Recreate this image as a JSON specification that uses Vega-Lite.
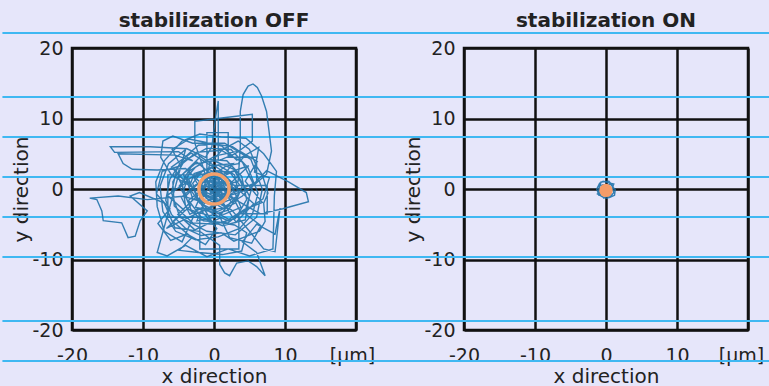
{
  "$schema": "https://vega.github.io/schema/vega-lite/v6.json",
  "background": "#e6e6fa",
  "padding": {"top": 9, "left": 0, "right": 0, "bottom": 0},
  "bounds": "flush",
  "spacing": 108,
  "config": {
    "font": "DejaVu Sans",
    "view": {"stroke": "#111111", "strokeWidth": 2.5, "fill": null},
    "axis": {
      "grid": true, "gridColor": "#111111", "gridWidth": 2.5, "gridOpacity": 1,
      "ticks": false, "domain": false,
      "labelFont": "DejaVu Sans", "labelFontSize": 19, "labelColor": "#222222",
      "labelFlush": false, "labelOverlap": false,
      "titleFont": "DejaVu Sans", "titleFontSize": 20, "titleFontWeight": "normal", "titleColor": "#222222"
    },
    "axisX": {"labelPadding": 16, "titlePadding": 1},
    "axisY": {"labelPadding": 9, "titlePadding": 0},
    "title": {"font": "DejaVu Sans", "fontSize": 20, "fontWeight": "bold", "color": "#222222", "baseline": "alphabetic", "offset": 1}
  },
  "datasets": {
    "bands": [{"y": 22.13}, {"y": 13.05}, {"y": 7.38}, {"y": 1.7}, {"y": -3.97}, {"y": -9.65}, {"y": -18.72}, {"y": -24.4}],
    "off": [
      {"x":0,"y":0},{"x":1.2,"y":0.8},{"x":-0.5,"y":2.1},{"x":-2.0,"y":1.0},{"x":-1.2,"y":-0.8},{"x":0.8,"y":-1.5},{"x":2.3,"y":-0.2},{"x":1.5,"y":1.8},{"x":-0.3,"y":3.0},{"x":-2.8,"y":2.2},
      {"x":-3.5,"y":0.2},{"x":-2.0,"y":-2.0},{"x":0.5,"y":-3.2},{"x":3.0,"y":-2.0},{"x":4.0,"y":0.5},{"x":2.8,"y":2.8},{"x":0.0,"y":4.0},{"x":-3.0,"y":3.5},{"x":-4.5,"y":1.0},{"x":-4.0,"y":-2.5},
      {"x":-1.5,"y":-4.5},{"x":2.0,"y":-4.8},{"x":4.5,"y":-2.8},{"x":5.5,"y":0.8},{"x":4.0,"y":3.8},{"x":1.0,"y":5.5},{"x":-2.5,"y":5.2},{"x":-5.2,"y":3.0},{"x":-6.0,"y":-0.5},{"x":-4.8,"y":-4.0},
      {"x":-1.0,"y":-6.0},{"x":3.0,"y":-6.5},{"x":6.0,"y":-4.0},{"x":6.8,"y":0.0},{"x":5.2,"y":4.2},{"x":1.5,"y":6.5},{"x":-3.0,"y":6.5},{"x":-5.8,"y":7.5},{"x":-7.2,"y":6.8},{"x":-7.5,"y":4.5},
      {"x":-6.0,"y":2.0},{"x":-3.5,"y":0.5},{"x":-1.0,"y":-1.0},{"x":1.5,"y":-2.5},{"x":4.0,"y":-1.0},{"x":7.4,"y":2.6},{"x":10.5,"y":1.0},{"x":13.0,"y":-0.5},{"x":13.3,"y":-1.8},{"x":9.7,"y":-2.8},
      {"x":6.5,"y":-3.5},{"x":3.0,"y":-1.5},{"x":0.5,"y":0.5},{"x":-1.5,"y":1.5},{"x":0.3,"y":-0.4},{"x":1.8,"y":0.6},{"x":3.4,"y":1.1},{"x":3.7,"y":6.0},{"x":3.7,"y":11.0},{"x":4.1,"y":13.4},
      {"x":4.8,"y":14.6},{"x":5.5,"y":14.9},{"x":6.1,"y":14.4},{"x":6.7,"y":13.2},{"x":7.4,"y":11.0},{"x":8.1,"y":5.4},{"x":7.4,"y":2.1},{"x":5.0,"y":0.0},{"x":2.0,"y":-1.0},{"x":-0.5,"y":-0.5},{"x":-1.5,"y":3.0},{"x":-2.7,"y":6.5},
      {"x":-2.7,"y":9.6},{"x":0.5,"y":10.0},{"x":5.4,"y":10.6},{"x":5.4,"y":6.8},{"x":3.0,"y":5.0},{"x":0.6,"y":4.0},{"x":0.6,"y":12.5},{"x":0.2,"y":10.0},{"x":-0.3,"y":6.0},{"x":-1.2,"y":4.5},
      {"x":-3.8,"y":5.7},{"x":-9.0,"y":6.0},{"x":-14.6,"y":6.0},{"x":-14.0,"y":5.2},{"x":-5.0,"y":5.3},{"x":-3.0,"y":4.0},{"x":-5.5,"y":4.8},{"x":-13.5,"y":5.0},{"x":-12.8,"y":3.6},{"x":-11.5,"y":2.8},
      {"x":-8.0,"y":2.7},{"x":-4.0,"y":2.9},{"x":-2.0,"y":1.0},{"x":-4.0,"y":-1.0},{"x":-9.4,"y":-1.5},{"x":-13.5,"y":-1.0},{"x":-17.5,"y":-1.3},{"x":-16.5,"y":-1.5},{"x":-15.8,"y":-3.1},{"x":-15.6,"y":-4.5},
      {"x":-13.0,"y":-4.8},{"x":-12.1,"y":-6.9},{"x":-11.1,"y":-6.7},{"x":-10.4,"y":-4.5},{"x":-9.4,"y":-3.1},{"x":-11.8,"y":-1.0},{"x":-10.5,"y":-0.5},{"x":-7.0,"y":-2.0},{"x":-5.5,"y":-5.5},{"x":-2.0,"y":-6.0},
      {"x":0.8,"y":-8.0},{"x":0.8,"y":-10.7},{"x":1.5,"y":-11.9},{"x":2.2,"y":-12.3},{"x":3.2,"y":-10.5},{"x":4.8,"y":-10.2},{"x":6.0,"y":-11.0},{"x":7.2,"y":-12.3},{"x":6.0,"y":-9.0},{"x":4.0,"y":-7.5},
      {"x":6.0,"y":-5.0},{"x":8.6,"y":-6.4},{"x":9.3,"y":-2.7},{"x":8.6,"y":-8.9},{"x":7.0,"y":-8.5},{"x":5.0,"y":-6.0},{"x":2.5,"y":-3.0},{"x":0.2,"y":-1.8},{"x":-1.8,"y":-0.2},{"x":-0.8,"y":1.6},
      {"x":1.0,"y":2.4},{"x":2.6,"y":0.9},{"x":1.9,"y":-1.2},{"x":0.0,"y":-2.4},{"x":-2.2,"y":-1.5},{"x":-3.0,"y":0.8},{"x":-1.6,"y":2.6},{"x":0.6,"y":3.4},{"x":2.9,"y":2.0},{"x":3.5,"y":-0.8},
      {"x":2.0,"y":-3.0},{"x":-0.6,"y":-3.8},{"x":-3.2,"y":-3.0},{"x":-4.3,"y":-0.3},{"x":-3.4,"y":2.6},{"x":-0.9,"y":4.2},{"x":1.8,"y":4.0},{"x":3.9,"y":1.8},{"x":4.6,"y":-1.5},{"x":3.0,"y":-4.2},
      {"x":0.0,"y":-5.0},{"x":-3.0,"y":-4.8},{"x":-5.6,"y":-2.4},{"x":-5.8,"y":1.0},{"x":-4.2,"y":4.0},{"x":-1.0,"y":5.8},{"x":2.4,"y":5.6},{"x":4.8,"y":3.0},{"x":6.2,"y":-0.6},{"x":5.4,"y":-3.6},
      {"x":3.6,"y":-5.6},{"x":0.6,"y":-6.8},{"x":-2.6,"y":-7.2},{"x":-5.4,"y":-6.0},{"x":-7.2,"y":-3.2},{"x":-7.6,"y":0.4},{"x":-6.4,"y":3.6},{"x":-4.0,"y":5.6},{"x":-8.0,"y":-9.0},{"x":-6.6,"y":-9.5},
      {"x":-4.0,"y":-8.0},{"x":-1.0,"y":-9.6},{"x":2.0,"y":-8.5},{"x":5.0,"y":-9.5},{"x":8.3,"y":-8.5},{"x":8.4,"y":-5.0},{"x":8.5,"y":-1.0},{"x":8.8,"y":2.5},{"x":7.0,"y":5.0},{"x":4.5,"y":7.2},
      {"x":1.0,"y":7.4},{"x":-2.0,"y":7.8},{"x":-4.5,"y":6.8},{"x":-7.0,"y":4.0},{"x":-8.2,"y":1.0},{"x":-8.0,"y":-2.5},{"x":-7.0,"y":-6.0},{"x":-4.5,"y":-7.5},{"x":-2.4,"y":-2.8},{"x":1.4,"y":-3.6},
      {"x":3.8,"y":-2.6},{"x":2.2,"y":1.2},{"x":-1.0,"y":0.4},{"x":-3.6,"y":-1.6},{"x":-1.8,"y":-4.0},{"x":1.2,"y":-5.2},{"x":4.4,"y":-4.4},{"x":5.0,"y":-1.0},{"x":3.0,"y":2.6},{"x":0.4,"y":1.4},
      {"x":-2.4,"y":3.8},{"x":-5.0,"y":1.6},{"x":-3.8,"y":-1.2},{"x":-0.4,"y":-2.2},{"x":2.6,"y":-0.6},{"x":6.0,"y":1.0},{"x":6.0,"y":4.5},{"x":2.0,"y":4.5},{"x":2.0,"y":8.0},{"x":-1.0,"y":8.0},
      {"x":-1.0,"y":2.0},{"x":-6.5,"y":2.0},{"x":-6.5,"y":-4.0},{"x":-2.0,"y":-4.0},{"x":-2.0,"y":-8.5},{"x":3.5,"y":-8.5},{"x":3.5,"y":-3.5},{"x":7.5,"y":-3.5},{"x":7.5,"y":0.5},{"x":3.0,"y":0.5},
      {"x":1.0,"y":1.0},{"x":-0.6,"y":-0.8},{"x":0.8,"y":0.2},{"x":-0.3,"y":0.6},{"x":0.2,"y":-0.3},
      {"x":3.1,"y":-4.7},{"x":5.6,"y":-2.1},{"x":2.4,"y":0.9},{"x":4.9,"y":3.3},{"x":1.7,"y":2.2},{"x":-1.9,"y":4.6},{"x":-4.4,"y":2.1},{"x":-2.3,"y":-0.9},{"x":-5.1,"y":-3.6},{"x":-2.7,"y":-5.8},
      {"x":0.9,"y":-4.1},{"x":2.2,"y":-6.9},{"x":5.3,"y":-7.7},{"x":6.6,"y":-5.2},{"x":4.1,"y":-3.3},{"x":6.9,"y":-1.4},{"x":7.8,"y":1.6},{"x":5.7,"y":2.4},{"x":6.3,"y":5.9},{"x":3.2,"y":4.1},
      {"x":1.1,"y":6.1},{"x":-1.6,"y":6.7},{"x":-3.5,"y":7.1},{"x":-5.9,"y":5.6},{"x":-4.7,"y":3.3},{"x":-7.3,"y":2.5},{"x":-8.1,"y":-0.7},{"x":-6.2,"y":-2.8},{"x":-7.9,"y":-4.9},{"x":-6.1,"y":-7.3},
      {"x":-3.8,"y":-6.4},{"x":-1.2,"y":-7.9},{"x":0.4,"y":-5.6},{"x":-1.7,"y":-3.2},{"x":0.8,"y":-2.1},{"x":3.3,"y":-1.1},{"x":1.4,"y":1.6},{"x":-0.9,"y":2.9},{"x":-3.6,"y":1.4},{"x":-2.1,"y":-1.7},
      {"x":-0.3,"y":-4.6},{"x":2.9,"y":-5.1},{"x":4.6,"y":-6.2},{"x":3.9,"y":-8.8},{"x":1.2,"y":-9.3},{"x":-2.2,"y":-9.0},{"x":-4.9,"y":-8.7},{"x":-3.1,"y":-6.9},{"x":-5.8,"y":-4.6},{"x":-3.3,"y":-2.4},
      {"x":-4.9,"y":0.4},{"x":-2.6,"y":3.1},{"x":0.2,"y":4.7},{"x":3.6,"y":5.4},{"x":6.1,"y":3.9},{"x":4.4,"y":1.1},{"x":6.8,"y":-1.9},{"x":4.3,"y":-2.9},{"x":2.1,"y":-4.3},{"x":-0.8,"y":-2.7},
      {"x":-3.7,"y":-4.1},{"x":-6.7,"y":-5.6},{"x":-4.1,"y":-3.1},{"x":-6.6,"y":-0.9},{"x":-3.9,"y":0.9},{"x":-6.0,"y":3.1},{"x":-3.2,"y":5.1},{"x":-0.4,"y":3.3},{"x":2.7,"y":3.6},{"x":0.6,"y":1.1},
      {"x":3.8,"y":-0.3},{"x":1.5,"y":-2.9},{"x":-1.1,"y":-1.3},{"x":-2.9,"y":1.7},{"x":-0.2,"y":2.5},{"x":2.4,"y":-1.8},{"x":0.7,"y":-3.9},{"x":-2.4,"y":-4.5},{"x":-1.3,"y":-1.9},{"x":1.9,"y":-0.4},
      {"x":-0.7,"y":1.9},{"x":-2.2,"y":0.1},{"x":0.3,"y":-1.2},
      {"x":1.2,"y":-0.6},{"x":-0.8,"y":0.8},{"x":0.6,"y":1.8},{"x":-1.6,"y":-1.0},{"x":0.2,"y":-1.4},{"x":1.8,"y":-2.6},{"x":-0.4,"y":-3.0},{"x":-2.6,"y":-2.6},{"x":-1.4,"y":0.2},{"x":0.4,"y":2.6},
      {"x":2.2,"y":2.4},{"x":3.6,"y":0.6},{"x":1.4,"y":-1.2},{"x":-0.2,"y":0.2},{"x":-2.0,"y":2.4},{"x":-3.8,"y":1.2},{"x":-3.0,"y":-1.4},{"x":-1.0,"y":-1.8},{"x":0.8,"y":-0.4},{"x":2.8,"y":-1.4},
      {"x":3.8,"y":-3.4},{"x":2.2,"y":-4.6},{"x":0.0,"y":-3.6},{"x":-1.6,"y":-2.6},{"x":-3.4,"y":-3.6},{"x":-4.6,"y":-1.2},{"x":-2.6,"y":0.6},{"x":-0.6,"y":1.2},{"x":1.4,"y":0.4},{"x":2.2,"y":-0.8},
      {"x":0.8,"y":-1.8},{"x":-0.8,"y":-1.2},{"x":-1.8,"y":0.8},{"x":-1.2,"y":2.0},{"x":0.2,"y":2.2},{"x":1.6,"y":3.2},{"x":3.4,"y":3.6},{"x":4.4,"y":4.8},{"x":2.6,"y":6.0},{"x":0.0,"y":6.4},
      {"x":-2.2,"y":6.2},{"x":-3.8,"y":4.8},{"x":-4.8,"y":3.6},{"x":-6.2,"y":1.4},{"x":-6.8,"y":-1.6},{"x":-6.0,"y":-3.6},{"x":-4.0,"y":-5.6},{"x":-1.8,"y":-6.6},{"x":1.0,"y":-6.2},{"x":2.8,"y":-7.4},
      {"x":4.8,"y":-6.6},{"x":6.4,"y":-6.0},{"x":7.2,"y":-4.6},{"x":7.0,"y":-2.0},{"x":7.6,"y":-0.6},{"x":6.8,"y":2.0},{"x":6.0,"y":3.2},{"x":5.0,"y":5.6},{"x":3.4,"y":6.8},{"x":1.2,"y":5.6},
      {"x":-0.6,"y":3.6},{"x":-1.0,"y":1.8},{"x":0.4,"y":0.6},{"x":1.2,"y":-0.2},{"x":0.2,"y":-1.0},{"x":-0.6,"y":-0.2},{"x":0.0,"y":0.8},{"x":0.8,"y":1.0},{"x":1.0,"y":0.2},{"x":-0.4,"y":-0.6},
      {"x":0.6,"y":-0.8},{"x":1.4,"y":-1.8},{"x":0.4,"y":-2.0},{"x":-1.0,"y":-2.8},{"x":-2.0,"y":-1.6},{"x":-1.4,"y":-0.4},{"x":-2.0,"y":0.4},{"x":-1.6,"y":1.6},{"x":-0.4,"y":1.8},{"x":0.8,"y":1.6},
      {"x":1.8,"y":0.8},{"x":2.0,"y":-0.4},{"x":1.2,"y":-1.2},{"x":0.0,"y":-0.6},{"x":-1.2,"y":0.6},{"x":-0.2,"y":1.2},{"x":1.0,"y":1.4},{"x":1.6,"y":0.0},{"x":0.2,"y":-0.4}
    ],
    "on": [
      {"x":0,"y":-0.2},{"x":0.5,"y":0.2},{"x":-0.4,"y":0.6},{"x":-1.0,"y":0.4},{"x":-0.8,"y":-0.4},{"x":-1.2,"y":-0.7},{"x":-0.5,"y":-1.1},{"x":0.2,"y":-1.3},{"x":0.7,"y":-1.0},{"x":1.1,"y":-0.5},
      {"x":0.9,"y":0.2},{"x":1.1,"y":0.7},{"x":0.3,"y":0.9},{"x":-0.4,"y":1.1},{"x":-0.9,"y":0.8},{"x":-1.3,"y":0.0},{"x":-1.0,"y":-0.9},{"x":-0.2,"y":-0.8},{"x":0.5,"y":-1.2},{"x":1.2,"y":-0.9},
      {"x":1.3,"y":-0.1},{"x":0.6,"y":0.7},{"x":-0.2,"y":0.4},{"x":-0.7,"y":-0.5},{"x":0.3,"y":-0.5},{"x":0.8,"y":-0.2},{"x":0.0,"y":0.2},{"x":-0.6,"y":0.1},{"x":0.3,"y":-0.9},{"x":-0.3,"y":-1.3},
      {"x":-1.1,"y":-0.4},{"x":-0.7,"y":1.0},{"x":0.4,"y":1.1},{"x":1.0,"y":0.4},{"x":0.6,"y":-0.8},{"x":0,"y":-0.2}
    ]
  },
  "hconcat": [
    {
      "width": 284, "height": 282,
      "title": {"text": "stabilization OFF"},
      "layer": [
        {
          "data": {"name": "bands"},
          "mark": {"type": "rule", "color": "#3fb8f2", "strokeWidth": 2, "clip": false},
          "encoding": {
            "y": {"field": "y", "type": "quantitative", "scale": {"domain": [-20, 20], "nice": false, "zero": false}, "axis": {"values": [-20, -10, 0, 10, 20], "labelExpr": "replace(datum.label, '−', '-')"}, "title": "y direction"},
            "x": {"datum": -29.8, "type": "quantitative", "scale": {"domain": [-20, 20], "nice": false, "zero": false}, "axis": {"values": [-20, -10, 0, 10, 20], "labelExpr": "datum.value == 20 ? '[μm]' : replace(datum.label, '−', '-')", "labelOffset": {"condition": {"test": "datum.value == 20", "value": -4}, "value": 0}}, "title": "x direction"},
            "x2": {"datum": 36}
          }
        },
        {
          "data": {"name": "off"},
          "mark": {"type": "line", "color": "#1f72aa", "strokeWidth": 1.4, "strokeOpacity": 0.9},
          "encoding": {
            "x": {"field": "x", "type": "quantitative", "title": "x direction"},
            "y": {"field": "y", "type": "quantitative", "title": "y direction"},
            "order": {"value": null}
          }
        },
        {
          "data": {"values": [{"x": 0, "y": 0}]},
          "mark": {"type": "point", "shape": "circle", "size": 908, "filled": false, "stroke": "#f2a06c", "strokeWidth": 3.5, "opacity": 1},
          "encoding": {
            "x": {"field": "x", "type": "quantitative", "title": "x direction"},
            "y": {"field": "y", "type": "quantitative", "title": "y direction"}
          }
        }
      ]
    },
    {
      "width": 284, "height": 282,
      "title": {"text": "stabilization ON"},
      "layer": [
        {
          "data": {"name": "bands"},
          "mark": {"type": "rule", "color": "#3fb8f2", "strokeWidth": 2, "clip": false},
          "encoding": {
            "y": {"field": "y", "type": "quantitative", "scale": {"domain": [-20, 20], "nice": false, "zero": false}, "axis": {"values": [-20, -10, 0, 10, 20], "labelExpr": "replace(datum.label, '−', '-')"}, "title": "y direction"},
            "x": {"datum": -36, "type": "quantitative", "scale": {"domain": [-20, 20], "nice": false, "zero": false}, "axis": {"values": [-20, -10, 0, 10, 20], "labelExpr": "datum.value == 20 ? '[μm]' : replace(datum.label, '−', '-')", "labelOffset": {"condition": {"test": "datum.value == 20", "value": -7}, "value": 0}}, "title": "x direction"},
            "x2": {"datum": 23}
          }
        },
        {
          "data": {"name": "on"},
          "mark": {"type": "line", "color": "#1f72aa", "strokeWidth": 1.4, "strokeOpacity": 0.9},
          "encoding": {
            "x": {"field": "x", "type": "quantitative", "title": "x direction"},
            "y": {"field": "y", "type": "quantitative", "title": "y direction"},
            "order": {"value": null}
          }
        },
        {
          "data": {"values": [{"x": 0, "y": -0.2}]},
          "mark": {"type": "point", "shape": "circle", "size": 180, "filled": true, "color": "#f59c68", "opacity": 1},
          "encoding": {
            "x": {"field": "x", "type": "quantitative", "title": "x direction"},
            "y": {"field": "y", "type": "quantitative", "title": "y direction"}
          }
        }
      ]
    }
  ]
}
